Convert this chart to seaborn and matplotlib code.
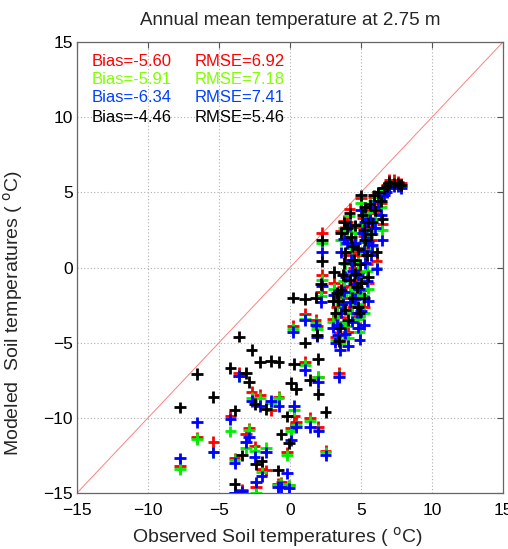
import matplotlib
matplotlib.use("Agg")
import matplotlib.pyplot as plt
import seaborn as sns
import pandas as pd

# ---- data ----
observed = [-7.75, -6.55, -5.4, -3.6, -2.7, -2.1, -1.35, -0.8, 0.3, -4.2,
            -3.1, -2.9, 0.07, 0.4, 1.4, 2.0, 2.5, -3.9, -2.5, -1.7,
            -0.2, -0.6, -0.07, -3.4, -2.4, -2.0, -0.85, -3.9,
            0.2, 1.05, 1.8, 1.05, 1.9, 3.45, 1.97, 2.25, 2.25, 2.2,
            3.3, 3.4, 3.6, 3.7, 3.8, 3.9, 4.0, 4.2, 4.3, 4.4,
            4.5, 4.6, 4.7, 4.8, 4.9, 5.0, 5.1, 5.2, 5.3, 5.4,
            5.5, 5.6, 5.7, 5.9, 6.0, 6.2, 6.4, 6.6, 6.8, 7.0,
            7.3, 7.6, 7.8, 4.1, 3.5, 5.0, 4.4, 5.8, 3.0, 4.9,
            5.3, 6.1, 4.6, 3.8, 3.6, 4.8, 5.5, 6.5, 4.2, 3.9,
            5.2, 3.2, 3.1]

model_black = [-9.3, -7.1, -8.6, -4.6, -5.5, -6.3, -6.2, -6.3, -6.4, -6.7,
               -7.0, -7.6, -7.7, -8.1, -7.5, -8.4, -9.6, -9.5, -9.1, -9.4,
               -9.9, -11.1, -11.7, -12.5, -13.1, -12.9, -13.5, -14.4,
               -2.0, -2.1, -2.0, -5.0, -4.5, -4.9, -6.1, 1.8, 0.4, -1.1,
               -1.7, -2.2, -1.5, -0.5, 0.3, 1.0, 2.6, 3.6, 2.0, 1.4,
               0.5, -0.4, -1.3, -2.6, -3.0, 4.8, 3.5, 2.5, 1.8, 0.8,
               3.0, 4.2, 2.2, 4.8, 3.8, 5.0, 4.4, 5.3, 5.4, 5.7,
               5.6, 5.6, 5.5, -3.5, -4.0, -1.0, -2.0, 3.0, -2.2, 0.2,
               4.0, 1.0, 2.8, 3.0, 2.3, 1.2, -0.6, 3.2, -0.8, -2.8,
               -2.0, -3.0, -0.3]

model_red = [-13.2, -11.3, -11.6, -7.0, -8.3, -8.5, -9.5, -8.6, -9.9, -9.9,
             -11.1, -10.7, -10.7, -10.3, -10.0, -10.6, -12.2, -12.7, -11.9, -13.5,
             -12.3, -14.3, -14.5, -14.8, -14.6, -13.4, -14.4, -15.0,
             -3.9, -3.1, -3.5, -6.3, -3.9, -7.0, -7.3, 2.3, -0.5, -1.6,
             -2.6, -3.3, -2.0, -1.3, -0.4, 0.8, 3.0, 3.9, 1.8, 1.0,
             0.0, -1.0, -2.0, -3.2, -4.0, 4.6, 3.3, 2.1, 1.3, 0.2,
             2.7, 4.0, 1.8, 4.7, 3.6, 5.0, 4.3, 5.3, 5.5, 5.8,
             5.8, 5.7, 5.6, -4.3, -4.8, -1.5, -2.6, 2.6, -3.4, -0.3,
             3.8, 0.4, 2.7, 3.1, 2.4, 0.8, -1.0, 2.9, -1.2, -3.6,
             -2.6, -4.6, -1.0]

model_green = [-13.4, -11.4, -12.3, -7.2, -8.7, -8.7, -9.0, -8.7, -9.5, -10.9,
               -12.0, -10.8, -10.9, -10.5, -10.2, -10.8, -12.3, -12.8, -12.2, -12.0,
               -12.5, -14.4, -14.5, -15.0, -15.0, -13.6, -14.5, -15.0,
               -4.1, -3.4, -3.7, -6.5, -4.1, -7.2, -7.3, 1.6, -0.8, -1.9,
               -3.0, -3.6, -2.4, -1.8, -0.9, 0.2, 2.4, 3.4, 1.3, 0.5,
               -0.4, -1.4, -2.4, -3.4, -4.3, 4.3, 2.9, 1.7, 0.9, -0.2,
               2.3, 3.7, 1.4, 4.4, 3.2, 4.7, 4.0, 5.1, 5.3, 5.6,
               5.6, 5.5, 5.4, -4.7, -5.0, -1.8, -3.0, 2.2, -3.6, -0.7,
               3.5, 0.0, 2.3, 2.6, 1.8, 0.3, -1.4, 2.5, -1.6, -3.9,
               -3.0, -4.8, -1.4]

model_blue = [-12.7, -10.3, -12.3, -7.2, -8.9, -9.2, -8.9, -9.2, -9.2, -10.1,
              -11.6, -11.3, -11.5, -10.6, -10.6, -10.9, -12.5, -13.0, -12.6, -12.3,
              -13.7, -14.6, -14.7, -14.9, -14.3, -13.9, -14.6, -15.0,
              -4.3, -3.5, -3.8, -6.8, -4.6, -7.3, -7.6, 1.0, -1.2, -2.3,
              -3.8, -4.5, -3.0, -2.4, -1.6, -0.6, 1.6, 2.8, 0.5, -0.2,
              -1.1, -2.1, -3.0, -4.0, -4.8, 3.8, 2.3, 1.1, 0.3, -0.9,
              1.7, 3.2, 0.8, 4.0, 2.6, 4.4, 3.5, 4.8, 5.0, 5.3,
              5.4, 5.4, 5.3, -5.2, -5.5, -2.9, -3.6, 1.5, -4.0, -1.4,
              3.0, -0.1, 1.6, 1.9, 1.0, -0.5, -2.2, 1.8, -2.3, -4.4,
              -3.8, -5.0, -1.8]

series_names = ["red", "green", "blue", "black"]
series_colors = ["#ff0000", "#00ee00", "#0000ff", "#000000"]
stat_bias = ["Bias=-5.60", "Bias=-5.91", "Bias=-6.34", "Bias=-4.46"]
stat_rmse = ["RMSE=6.92", "RMSE=7.18", "RMSE=7.41", "RMSE=5.46"]
text_colors = ["#ff0000", "#80ff00", "#0040ff", "#000000"]
ticks = [-15, -10, -5, 0, 5, 10, 15]

frames = []
for name, vals in zip(series_names, [model_red, model_green, model_blue, model_black]):
    frames.append(pd.DataFrame({"obs": observed, "model": vals, "series": name}))
df = pd.concat(frames, ignore_index=True)

# ---- style ----
sns.set_style("white")
plt.rcParams["font.family"] = ["Liberation Sans", "DejaVu Sans"]

fig = plt.figure(figsize=(5.08, 5.49), dpi=100)
ax = fig.add_axes([0.1516, 0.102, 0.8386, 0.8215])

ax.plot([-15, 15], [-15, 15], color="#ff8080", linewidth=0.7, zorder=1)

sns.scatterplot(data=df, x="obs", y="model", hue="series",
                palette=dict(zip(series_names, series_colors)),
                marker="+", s=70, linewidth=2.0, legend=False, ax=ax, zorder=3)

ax.set_xlim(-15, 15)
ax.set_ylim(-15, 15)
ax.set_xticks(ticks)
ax.set_yticks(ticks)
ax.tick_params(direction="in", top=True, right=True, length=4, width=0.8,
               labelsize=12.5, colors="#555555", labelcolor="black")
ax.tick_params(axis="x", pad=7)
ax.tick_params(axis="y", pad=3)
ax.grid(True, linestyle=(0, (1, 2)), color="#b0b0b0", linewidth=0.8)
for sp in ax.spines.values():
    sp.set_color("#666666")
    sp.set_linewidth(0.9)

ax.set_title("Annual mean temperature at 2.75 m", fontsize=13.5, pad=12)
ax.set_xlabel("Observed Soil temperatures ( $^{\\mathrm{o}}$C)", fontsize=14)
ax.set_ylabel("Modeled  Soil temperatures ( $^{\\mathrm{o}}$C)", fontsize=14)
ax.xaxis.set_label_coords(0.47, -0.072)
ax.yaxis.set_label_coords(-0.123, 0.40)

rows_y = [13.7, 12.5, 11.3, 10.0]
for yv, b, r, c in zip(rows_y, stat_bias, stat_rmse, text_colors):
    ax.text(-14.0, yv, b, color=c, fontsize=12, va="center", ha="left")
    ax.text(-6.75, yv, r, color=c, fontsize=12, va="center", ha="left")

fig.savefig("out.png", dpi=100)
